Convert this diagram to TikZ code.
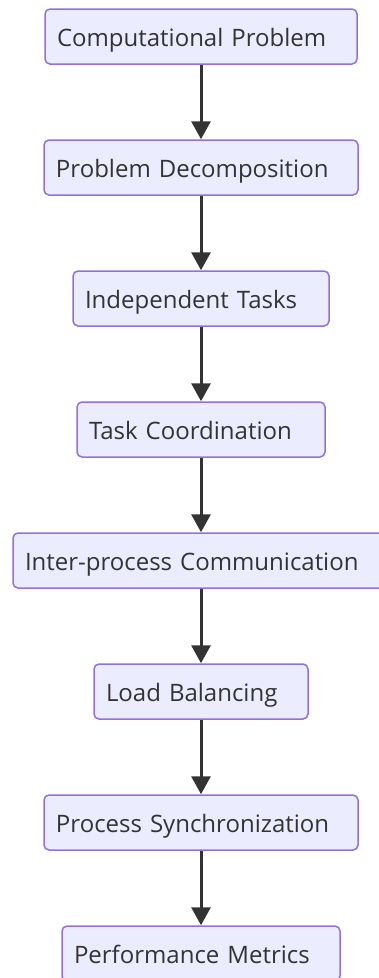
\documentclass[tikz,border=0pt]{standalone}
\usepackage{fontspec}
\setmainfont{Open Sans}
\usetikzlibrary{arrows.meta}
\definecolor{boxfill}{HTML}{ECECFF}
\definecolor{boxline}{HTML}{9370DB}
\definecolor{ink}{HTML}{333333}
\tikzset{
  stepbox/.style={draw=boxline, fill=boxfill, line width=1.5pt, rounded corners=5pt,
    inner xsep=12pt, inner ysep=0pt, minimum height=55pt, align=left,
    text=ink, text height=24pt, text depth=5pt,
    font=\fontsize{24}{28}\selectfont},
  flow/.style={draw=ink, line width=3pt, -{Triangle[length=18pt,width=19pt]}}
}
\begin{document}
\begin{tikzpicture}[x=1pt,y=1pt]
  \useasboundingbox (0,0) rectangle (379,-978);
  \node[stepbox, text width=288pt] (n1) at (201,-36.5) {Computational Problem};
  \node[stepbox, text width=290pt] (n2) at (201,-167.5) {Problem Decomposition};
  \node[stepbox, text width=232pt] (n3) at (201,-298.5) {Independent Tasks};
  \node[stepbox, text width=224pt] (n4) at (201,-429.5) {Task Coordination};
  \node[stepbox, text width=352pt] (n5) at (201,-560.5) {Inter-process Communication};
  \node[stepbox, text width=190pt] (n6) at (201,-691.5) {Load Balancing};
  \node[stepbox, text width=290pt] (n7) at (201,-822.5) {Process Synchronization};
  \node[stepbox, text width=254pt] (n8) at (201,-953.5) {Performance Metrics};
  \draw[flow] (n1) -- (n2);
  \draw[flow] (n2) -- (n3);
  \draw[flow] (n3) -- (n4);
  \draw[flow] (n4) -- (n5);
  \draw[flow] (n5) -- (n6);
  \draw[flow] (n6) -- (n7);
  \draw[flow] (n7) -- (n8);
\end{tikzpicture}
\end{document}
